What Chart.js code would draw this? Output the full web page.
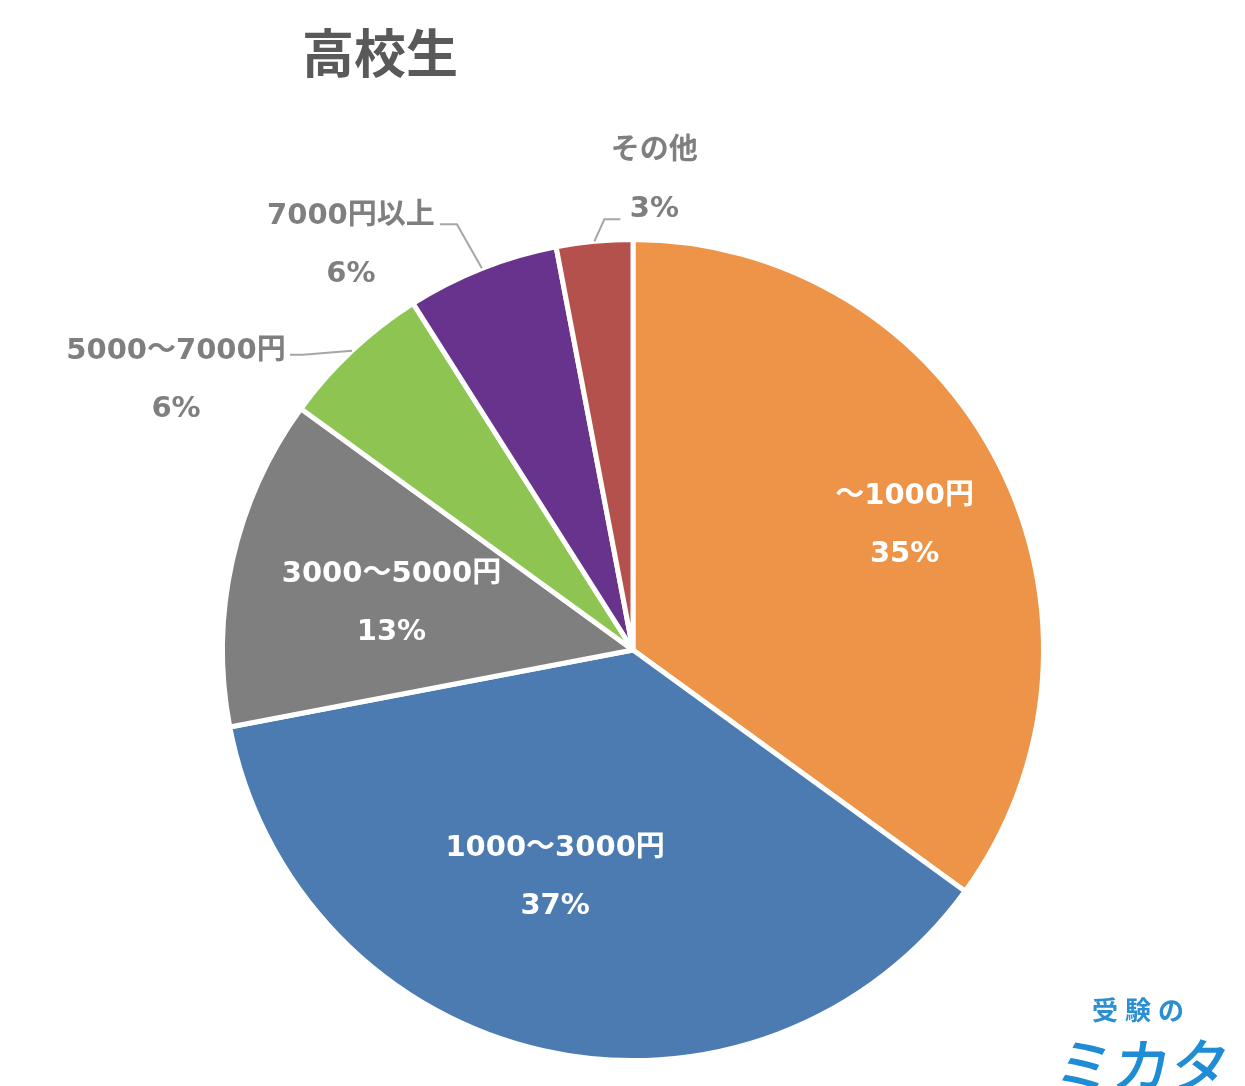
<!DOCTYPE html>
<html lang="ja">
<head>
<meta charset="utf-8">
<script src="https://cdn.jsdelivr.net/npm/chart.js@4.4.1/dist/chart.umd.min.js"></script>
<style>
  html, body { margin: 0; padding: 0; background: #fff; }
  #wrap { position: relative; width: 1245px; height: 1086px; overflow: hidden; }
  #title {
    position: absolute; left: 230px; top: 20px; width: 300px; text-align: center;
    font: bold 52px "Noto Sans CJK JP", sans-serif; color: #595959; line-height: 1.2;
  }
  #logo1 {
    position: absolute; left: 1092px; top: 990px;
    font: bold 26px "Noto Sans CJK JP", sans-serif; color: #2b8fd3; letter-spacing: 7px;
  }
  #logo2 {
    position: absolute; left: 1056px; top: 1020px;
    font: 500 58px "Noto Sans CJK JP", sans-serif; color: #1f8dd6; letter-spacing: 0px;
    transform: skewX(-8deg);
  }
</style>
</head>
<body>
<div id="wrap">
  <canvas id="pieChart" width="1245" height="1086"></canvas>
  <div id="title">高校生</div>
  <div id="logo1">受験の</div>
  <div id="logo2">ミカタ</div>
</div>
<script>
// data
const categories = ["～1000円", "1000～3000円", "3000～5000円", "5000～7000円", "7000円以上", "その他"];
const shares = [35, 37, 13, 6, 6, 3];
const sliceColors = ["#ED9448", "#4B7BB1", "#7F7F7F", "#8DC452", "#67338C", "#B5514D"];

// where each label goes (inside ones along the mid angle, outside ones with a leader line)
const labelLayout = [
    { inside: true, r: 0.73, dAngle: 2 },
    { inside: true, r: 0.58, dAngle: 6.5 },
    { inside: true, r: 0.60, dAngle: -1.3 },
    { inside: false, elbow: [-49, 4], tail: -13, text: [-114, -3] },
    { inside: false, elbow: [-25, -44], tail: -17, text: [-89, -8] },
    { inside: false, elbow: [10, -22], tail: 16, text: [34, -68] }
];

const LABEL_FONT = 'bold 29px "DejaVu Sans", "Noto Sans CJK JP", sans-serif';
const LINE_GAP = 58;

const pieLabels = {
    id: "pieLabels",
    afterDatasetsDraw(chart) {
        const ctx = chart.ctx;
        const meta = chart.getDatasetMeta(0);
        ctx.save();
        ctx.font = LABEL_FONT;
        ctx.textAlign = "center";
        ctx.textBaseline = "middle";

        meta.data.forEach((arc, i) => {
            const p = arc.getProps(["x", "y", "startAngle", "endAngle", "outerRadius"], true);
            const mid = (p.startAngle + p.endAngle) / 2;
            const cfg = labelLayout[i];
            const pct = shares[i] + "%";

            if (cfg.inside) {
                const a = mid + cfg.dAngle * Math.PI / 180;
                const lx = p.x + Math.cos(a) * p.outerRadius * cfg.r;
                const ly = p.y + Math.sin(a) * p.outerRadius * cfg.r;
                ctx.fillStyle = "#ffffff";
                ctx.fillText(categories[i], lx, ly - LINE_GAP / 2 + 2);
                ctx.fillText(pct, lx, ly + LINE_GAP / 2 + 2);
            } else {
                const x0 = p.x + Math.cos(mid) * p.outerRadius;
                const y0 = p.y + Math.sin(mid) * p.outerRadius;
                const x1 = x0 + cfg.elbow[0];
                const y1 = y0 + cfg.elbow[1];
                const x2 = x1 + cfg.tail;
                ctx.strokeStyle = "#A6A6A6";
                ctx.lineWidth = 2;
                ctx.beginPath();
                ctx.moveTo(x0, y0);
                ctx.lineTo(x1, y1);
                ctx.lineTo(x2, y1);
                ctx.stroke();

                const tx = x2 + cfg.text[0];
                const ty = y1 + cfg.text[1];
                ctx.fillStyle = "#7F7F7F";
                ctx.fillText(categories[i], tx, ty);
                ctx.fillText(pct, tx, ty + LINE_GAP);
            }
        });
        ctx.restore();
    }
};

new Chart(document.getElementById("pieChart"), {
    type: "pie",
    data: {
        labels: categories,
        datasets: [{
            data: shares,
            backgroundColor: sliceColors,
            borderColor: "#ffffff",
            borderWidth: 5
        }]
    },
    options: {
        responsive: false,
        animation: false,
        layout: { padding: { top: 237, bottom: 23, left: 220, right: 199 } },
        plugins: {
            legend: { display: false },
            tooltip: { enabled: false }
        }
    },
    plugins: [pieLabels]
});
</script>
</body>
</html>
